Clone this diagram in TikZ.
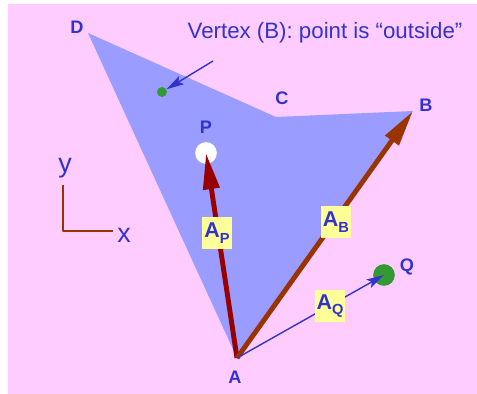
\documentclass[tikz,border=0pt]{standalone}
\usepackage{fontspec}
\setmainfont{Liberation Sans}
\usetikzlibrary{arrows.meta,positioning,calc}
\definecolor{bgpink}{HTML}{FFCCFF}
\definecolor{polyblue}{HTML}{9A9CFF}
\definecolor{labelblue}{HTML}{3333CC}
\definecolor{darkred}{HTML}{990000}
\definecolor{rust}{HTML}{993300}
\definecolor{ptgreen}{HTML}{339933}
\definecolor{boxyellow}{HTML}{FFFF99}
\newcommand{\vecname}[1]{A\raisebox{-5pt}{\fontsize{12.5}{12}\selectfont #1}}
\tikzset{
    every picture/.style={line cap=round,line join=round},
    vtxlabel/.style={text=labelblue,inner sep=0pt,
      font=\fontsize{15.5}{17}\selectfont\bfseries},
    axislabel/.style={text=labelblue,inner sep=0pt,
      font=\fontsize{23}{24}\selectfont},
    notelabel/.style={text=labelblue,inner sep=0pt,
      font=\fontsize{19}{22}\selectfont},
    veclabel/.style={fill=boxyellow,text=labelblue,inner sep=1pt,
      minimum width=26pt,minimum height=27pt,
      font=\fontsize{18.3}{20}\selectfont\bfseries},
    ptdot/.style={circle,inner sep=0pt,minimum size=18.5pt},
    vecarrow/.style={line width=4.2pt,line cap=butt,
      -{Triangle[length=31pt,width=13.5pt]}},
    thinarrow/.style={draw=labelblue,line width=1.2pt,line cap=butt,
      -{Stealth[length=15pt,width=8pt,inset=3pt]}}
}
\begin{document}
\begin{tikzpicture}[x=0.03cm,y=-0.03cm]
  \useasboundingbox (0,0) rectangle (477,394);
  \fill[bgpink] (8,4) rectangle (477,394);
  % polygon
  \coordinate (A) at (237,358);
  \coordinate (B) at (413,111);
  \coordinate (C) at (276,117);
  \coordinate (D) at (88,33);
  \fill[polyblue] (A) -- (B) -- (C) -- (D) -- cycle;
  \node[vtxlabel] (labA) at (235,377) {A};
  \node[vtxlabel] (labB) at (426,105) {B};
  \node[vtxlabel] (labC) at (282,98) {C};
  \node[vtxlabel] (labD) at (77,27) {D};
  % test points
  \node[ptdot,fill=white] (P) at (206,153) {};
  \node[ptdot,fill=ptgreen] (Q) at (384,275) {};
  \node[ptdot,fill=ptgreen,minimum size=8.5pt] (dot) at (162,92) {};
  \node[vtxlabel] (labP) at (206,127) {P};
  \node[vtxlabel] (labQ) at (407,267) {Q};
  % vectors from A
  \draw[vecarrow,darkred] (A) -- (P.center);
  \draw[vecarrow,rust] (A) -- (B);
  \draw[thinarrow] (A) -- (Q.center);
  \node[veclabel] (vAP) at (217,233) {\vecname{P}};
  \node[veclabel] (vAB) at (336,222) {\vecname{B}};
  \node[veclabel] (vAQ) at (330,306) {\vecname{Q}};
  % note
  \node[notelabel] (note) at (325,33) {Vertex (B): point is “outside”};
  \coordinate (tail) at (213,61);
  \draw[thinarrow] (tail) -- (dot);
  % axes
  \coordinate (O) at (63,231);
  \draw[rust,line width=1.7pt,line cap=butt] (O) ++(0,-46) -- (O) -- ++(50,0);
  \node[axislabel] (ylab) at (65,168) {y};
  \node[axislabel] (xlab) at (124,235) {x};
\end{tikzpicture}
\end{document}
